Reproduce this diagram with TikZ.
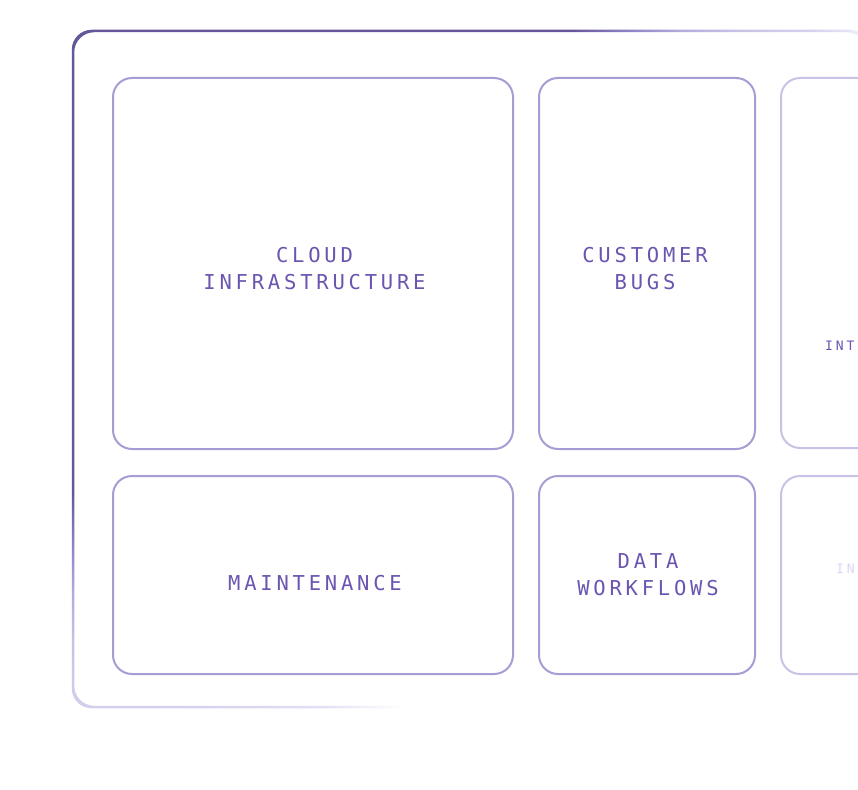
\documentclass[tikz,border=0pt]{standalone}
\usepackage{fontspec}
\newfontfamily\monofont[LetterSpace=18.5]{DejaVu Sans Mono}
\newfontfamily\monosmall[LetterSpace=22]{DejaVu Sans Mono}
\definecolor{framedark}{HTML}{66579C}
\definecolor{framemid}{HTML}{8E80C4}
\definecolor{framelight}{HTML}{B4AADC}
\definecolor{framesoft}{HTML}{C9C1E6}
\definecolor{framepale}{HTML}{D6D0EE}
\definecolor{framewisp}{HTML}{E4E0F4}
\definecolor{boxline}{HTML}{A89CD4}
\definecolor{boxfaint}{HTML}{C9C2E6}
\definecolor{labeltext}{HTML}{6B55B0}
\definecolor{labelfaint}{HTML}{DCD5F5}
\pgfdeclareradialshading{framefade}{\pgfpoint{0bp}{0bp}}{%
  color(0bp)=(framedark); color(460bp)=(framedark); color(510bp)=(framemid);
  color(560bp)=(framelight); color(610bp)=(framesoft); color(680bp)=(framepale);
  color(712bp)=(framewisp); color(738bp)=(white); color(900bp)=(white)}
\tikzset{
  tile/.style={draw=boxline, line width=2pt, rounded corners=19pt},
  tilefaint/.style={draw=boxfaint, line width=2pt, rounded corners=19pt},
  biglabel/.style={font=\monofont\fontsize{20.5}{27}\selectfont, text=labeltext, align=center, inner sep=0pt},
  smalllabel/.style={font=\monosmall\fontsize{13}{15}\selectfont, inner sep=0pt, anchor=west}
}
\begin{document}
\begin{tikzpicture}[x=1pt,y=-1pt]
\fill[white] (0,0) rectangle (858,789);
\useasboundingbox (0,0) rectangle (858,789);
% outer frame with faded stroke (ring clipped by opposite windings)
\begin{scope}
  \clip[rounded corners=20pt] (71.75,29.75) rectangle (869.25,708.25)
        (866.75,32.25) rectangle (74.25,705.75);
  \begin{scope}[shift={(73,31)}, xscale=1.08]
    \node[inner sep=0pt, transform shape] (fade) at (0,0) {\pgfuseshading{framefade}};
  \end{scope}
\end{scope}
% tiles
\draw[tile] (113,78) rectangle (513,449);
\draw[tile] (539,78) rectangle (755,449);
\draw[tilefaint] (781,78) rectangle (1000,448);
\draw[tile] (113,476) rectangle (513,674);
\draw[tile] (539,476) rectangle (755,674);
\draw[tilefaint] (781,476) rectangle (1000,674);
% labels
\node[biglabel] (cloud) at (314.5,268.5) {CLOUD\\INFRASTRUCTURE};
\node[biglabel] (bugs) at (645,268.5) {CUSTOMER\\BUGS};
\node[biglabel] (maint) at (315,583.5) {MAINTENANCE};
\node[biglabel] (data) at (648,574.5) {DATA\\WORKFLOWS};
\node[smalllabel, text=labeltext] (int) at (825,346) {INT};
\node[smalllabel, text=labelfaint] (in) at (836,569) {IN};
\end{tikzpicture}
\end{document}
